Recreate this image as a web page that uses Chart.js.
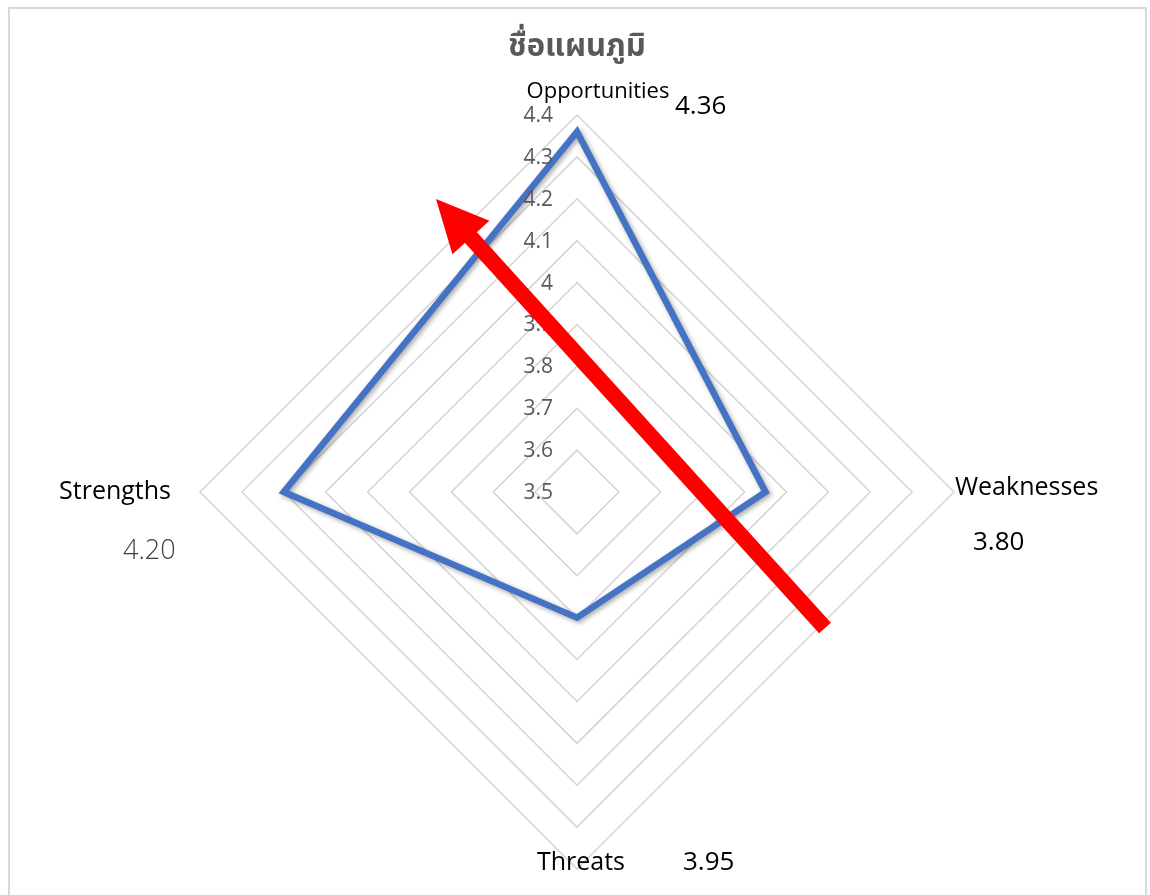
<!DOCTYPE html>
<html>
<head>
<meta charset="utf-8">
<script src="https://cdn.jsdelivr.net/npm/chart.js@4.4.0/dist/chart.umd.min.js"></script>
<style>
  html, body { margin: 0; padding: 0; background: #fff; }
  #wrap { width: 1150px; height: 895px; position: relative; }
</style>
</head>
<body>
<div id="wrap"><canvas id="mycanvas" width="1150" height="895"></canvas></div>
<script>
var chartTitle = 'ชื่อแผนภูมิ';
var categories = ['Opportunities', 'Weaknesses', 'Threats', 'Strengths'];
var scores = [4.36, 3.95, 3.80, 4.20];
// value boxes typed next to each axis label in the original
var noteTexts = ['4.36', '3.80', '3.95', '4.20'];
var tickValues = [3.5, 3.6, 3.7, 3.8, 3.9, 4, 4.1, 4.2, 4.3, 4.4];

var labelFont = '25px "Open Sans", sans-serif';

var extras = {
	id: 'extras',
	beforeDraw: function(chart) {
		var c = chart.ctx;
		c.save();
		c.fillStyle = '#fff';
		c.fillRect(0, 0, chart.width, chart.height);
		c.strokeStyle = '#d9d9d9';
		c.lineWidth = 2;
		c.strokeRect(9, 8, 1137, 900);
		c.restore();
	},
	beforeDatasetDraw: function(chart) {
		var c = chart.ctx;
		c.save();
		c.shadowColor = 'rgba(0,0,0,0.35)';
		c.shadowBlur = 5;
		c.shadowOffsetX = 2;
		c.shadowOffsetY = 2;
	},
	afterDatasetDraw: function(chart) {
		chart.ctx.restore();
	},
	afterDraw: function(chart) {
		var c = chart.ctx;
		var s = chart.scales.r;
		var cx = s.xCenter, cy = s.yCenter;
		c.save();

		// title
		c.fillStyle = '#595959';
		c.font = 'bold 31px "Noto Sans Thai", "Noto Sans", sans-serif';
		c.textAlign = 'center';
		c.textBaseline = 'middle';
		c.fillText(chartTitle, cx, 50);

		// ticks, left of the vertical axis
		c.font = '21px "Open Sans", sans-serif';
		c.textAlign = 'right';
		for (var i = 0; i < tickValues.length; i++) {
			var d = s.getDistanceFromCenterForValue(tickValues[i]);
			c.fillText(String(tickValues[i]), cx - 24, cy - d + 1);
		}

		// axis labels
		var R = s.drawingArea;
		c.fillStyle = '#000';
		c.font = '22px "Open Sans", sans-serif';
		c.textAlign = 'center';
		c.fillText(categories[0], cx + 21, cy - R - 23);
		c.font = labelFont;
		c.textAlign = 'left';
		c.fillText(categories[1], cx + R + 1, cy - 4);
		c.textAlign = 'center';
		c.fillText(categories[2], cx + 4, cy + R - 6);
		c.textAlign = 'right';
		c.fillText(categories[3], cx - R - 29, cy);

		// value notes
		c.font = '26px "Open Sans", sans-serif';
		c.textAlign = 'left';
		c.fillText(noteTexts[0], cx + 98, cy - R - 8);
		c.fillText(noteTexts[1], cx + R + 19, cy + 51);
		c.fillText(noteTexts[2], cx + 106, cy + R - 6);
		c.fillStyle = '#404040';
		c.font = '300 27px "Open Sans", sans-serif';
		c.fillText(noteTexts[3], cx - R - 77, cy + 59);

		// red arrow
		var tx = 825, ty = 628, hx = 436, hy = 199;
		var ang = Math.atan2(hy - ty, hx - tx);
		var headLen = 52, headW = 25;
		var bx = hx - Math.cos(ang) * headLen, by = hy - Math.sin(ang) * headLen;
		c.strokeStyle = '#ff0000';
		c.fillStyle = '#ff0000';
		c.lineWidth = 16;
		c.lineCap = 'butt';
		c.beginPath();
		c.moveTo(tx, ty);
		c.lineTo(bx + Math.cos(ang) * 5, by + Math.sin(ang) * 5);
		c.stroke();
		c.beginPath();
		c.moveTo(hx, hy);
		c.lineTo(bx + Math.sin(ang) * headW, by - Math.cos(ang) * headW);
		c.lineTo(bx - Math.sin(ang) * headW, by + Math.cos(ang) * headW);
		c.closePath();
		c.fill();
		c.restore();
	}
};

var ctx = document.getElementById('mycanvas');
var radar = new Chart(ctx, {
	type: 'radar',
	data: {
		labels: categories,
		datasets: [{
			label: 'score',
			data: scores,
			borderColor: '#4472C4',
			backgroundColor: 'rgba(0,0,0,0)',
			borderWidth: 6.5,
			pointRadius: 0,
			pointHoverRadius: 0,
			fill: false,
			tension: 0
		}]
	},
	options: {
		responsive: false,
		animation: false,
		layout: { padding: { left: 200, right: 196, top: 115, bottom: 26 } },
		plugins: { legend: { display: false }, tooltip: { enabled: false }, title: { display: false } },
		scales: {
			r: {
				min: 3.5,
				max: 4.4,
				ticks: { stepSize: 0.1, display: false },
				grid: { color: '#d4d4d4', lineWidth: 1.5 },
				angleLines: { display: false },
				pointLabels: { display: false }
			}
		}
	},
	plugins: [extras]
});
</script>
</body>
</html>
